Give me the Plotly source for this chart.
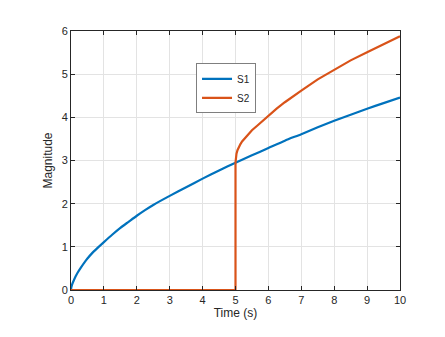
import plotly.graph_objects as go

# S1
t1 = [0, 0.01, 0.03, 0.06, 0.1, 0.15, 0.2, 0.3, 0.4, 0.5, 0.65, 0.8, 1, 1.25, 1.5, 1.75,
      2, 2.25, 2.5, 3, 3.5, 4, 4.5, 5, 5.5, 6, 6.5, 7, 7.5, 8, 8.5, 9, 9.5, 10]
s1 = [0, 0.06, 0.12, 0.18, 0.25, 0.33, 0.4, 0.52, 0.63, 0.73, 0.86, 0.97, 1.11, 1.28, 1.44,
      1.58, 1.72, 1.85, 1.97, 2.18, 2.38, 2.58, 2.77, 2.95, 3.12, 3.29, 3.46, 3.61, 3.77,
      3.92, 4.06, 4.2, 4.33, 4.46]

# S2: zero until 5 s, then jumps up
t2 = [0, 5, 5, 5.01, 5.03, 5.06, 5.1, 5.15, 5.2, 5.3, 5.4, 5.5, 5.65, 5.8, 6, 6.25, 6.5,
      6.75, 7, 7.5, 8, 8.5, 9, 9.5, 10]
s2 = [0, 0, 2.95, 3.06, 3.16, 3.24, 3.31, 3.38, 3.44, 3.53, 3.62, 3.7, 3.8, 3.9, 4.04,
      4.2, 4.35, 4.49, 4.62, 4.88, 5.11, 5.32, 5.51, 5.7, 5.88]

x_ticks = list(range(0, 11))
y_ticks = list(range(0, 7))

fig = go.Figure()
fig.add_trace(go.Scatter(x=t1, y=s1, mode='lines', name='S1',
                         line=dict(color='#0072BD', width=2.2, shape='spline', smoothing=0.6)))
fig.add_trace(go.Scatter(x=t2, y=s2, mode='lines', name='S2',
                         line=dict(color='#D95319', width=2.2)))

axis_style = dict(showline=True, linecolor='#262626', linewidth=1, mirror='ticks',
                  ticks='inside', ticklen=4, tickcolor='#262626',
                  showgrid=True, gridcolor='#e3e3e3', gridwidth=1, zeroline=False,
                  tickfont=dict(size=11, color='#262626'), automargin=False)

fig.update_xaxes(range=[0, 10], tickvals=x_ticks,
                 title=dict(text='Time (s)', font=dict(size=12, color='#262626'), standoff=0),
                 **axis_style)
fig.update_yaxes(range=[0, 6], tickvals=y_ticks,
                 title=dict(text='Magnitude', font=dict(size=12, color='#262626'), standoff=6),
                 **axis_style)

# page body has an 8px margin, so the plot area is shifted back by that much
fig.update_layout(
    width=445, height=337,
    margin=dict(l=63, r=53, t=23, b=55),
    paper_bgcolor='white', plot_bgcolor='white',
    font=dict(family='Liberation Sans, Arial, sans-serif', color='#262626'),
    legend=dict(x=0.38, y=0.875, xanchor='left', yanchor='top',
                bgcolor='white', bordercolor='#7f7f7f', borderwidth=1,
                font=dict(size=10), tracegroupgap=0, itemwidth=30),
    showlegend=True,
)

fig.write_html("out.html")
